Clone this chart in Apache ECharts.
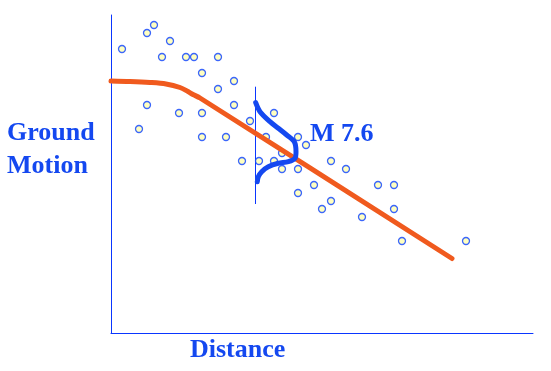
<!DOCTYPE html>
<html>
<head>
<meta charset="utf-8">
<script src="https://cdn.jsdelivr.net/npm/echarts@6/dist/echarts.min.js"></script>
<style>html,body{margin:0;padding:0;background:#fff}#c{width:551px;height:371px}</style>
</head>
<body>
<div id="c"></div>
<script>
// Observed ground-motion records: [distance, motion] (arbitrary units)
const observations = [
  [11,284],[36,300],[43,308],[59,292],[51,276],[75,276],[83,276],[107,276],
  [91,260],[123,252],[107,244],[36,228],[68,220],[91,220],[123,228],[28,204],
  [139,212],[163,220],[91,196],[115,196],[155,196],[187,196],[195,188],[171,180],
  [131,172],[148,172],[163,172],[171,164],[187,164],[203,148],[187,140],[220,172],
  [235,164],[267,148],[283,148],[220,132],[211,124],[283,124],[251,116],[291,92],[355,92]
];
// Attenuation relation curve for M 7.6
const attenuationCurve = [
  [0,252],[19,251.5],[39,250.5],[55,249],[69,245.5],[77,241.5],[82,238.5],[89,235],[341,74.5]
];
// Vertical reference line at a chosen distance
const refLine = [[144.5,129],[144.5,246.3]];
// Scatter distribution (bell) about the median at that distance
const distribution = [
  [144.7,230.3],[149,221.3],[159,211.3],[167.3,204.7],[175.7,198],[183.3,191.3],
  [185,181.3],[184,174.7],[177.3,171.3],[167.3,169.7],[157.3,166.3],[150.7,161.3],
  [147.3,156.3],[146.3,151.3]
];
const labels = { y1: 'Ground', y2: 'Motion', x: 'Distance', mag: 'M 7.6' };

const BLUE = '#1448f0';
const AXIS = '#0a36ff';
const ORANGE = '#f05a1e';
const font = 'bold 26px "Liberation Serif", "Times New Roman", serif';

const chart = echarts.init(document.getElementById('c'), null, {renderer:'canvas'});
chart.setOption({
  animation: false,
  backgroundColor: '#ffffff',
  grid: { left: 111, top: 15, width: 422, height: 318 },
  xAxis: { type:'value', min:0, max:422, axisLine:{show:true, onZero:true, lineStyle:{color:AXIS,width:1}},
           axisTick:{show:false}, axisLabel:{show:false}, splitLine:{show:false} },
  yAxis: { type:'value', min:0, max:318, axisLine:{show:true, lineStyle:{color:AXIS,width:1}},
           axisTick:{show:false}, axisLabel:{show:false}, splitLine:{show:false} },
  series: [
    { type:'line', data: refLine, symbol:'none', lineStyle:{color:AXIS, width:1}, z:1 },
    { type:'scatter', data: observations, symbol:'circle', symbolSize:7,
      itemStyle:{color:'#ffffb0', borderColor:'#0a40ff', borderWidth:1.3}, z:2 },
    { type:'line', data: attenuationCurve, symbol:'none', smooth:0.3,
      lineStyle:{color:ORANGE, width:5, cap:'round', join:'round'}, z:3 },
    { type:'line', data: distribution, symbol:'none', smooth:0.3,
      lineStyle:{color:BLUE, width:5, cap:'round', join:'round'}, z:4 }
  ],
  graphic: [
    { type:'text', style:{ x:7, y:133, text:labels.y1, font, fill:BLUE, verticalAlign:'middle', align:'left' } },
    { type:'text', style:{ x:7, y:166, text:labels.y2, font, fill:BLUE, verticalAlign:'middle', align:'left' } },
    { type:'text', style:{ x:190, y:350, text:labels.x, font, fill:BLUE, verticalAlign:'middle', align:'left' } },
    { type:'text', style:{ x:310, y:134, text:labels.mag, font, fill:BLUE, verticalAlign:'middle', align:'left' } }
  ]
});
</script>
</body>
</html>
